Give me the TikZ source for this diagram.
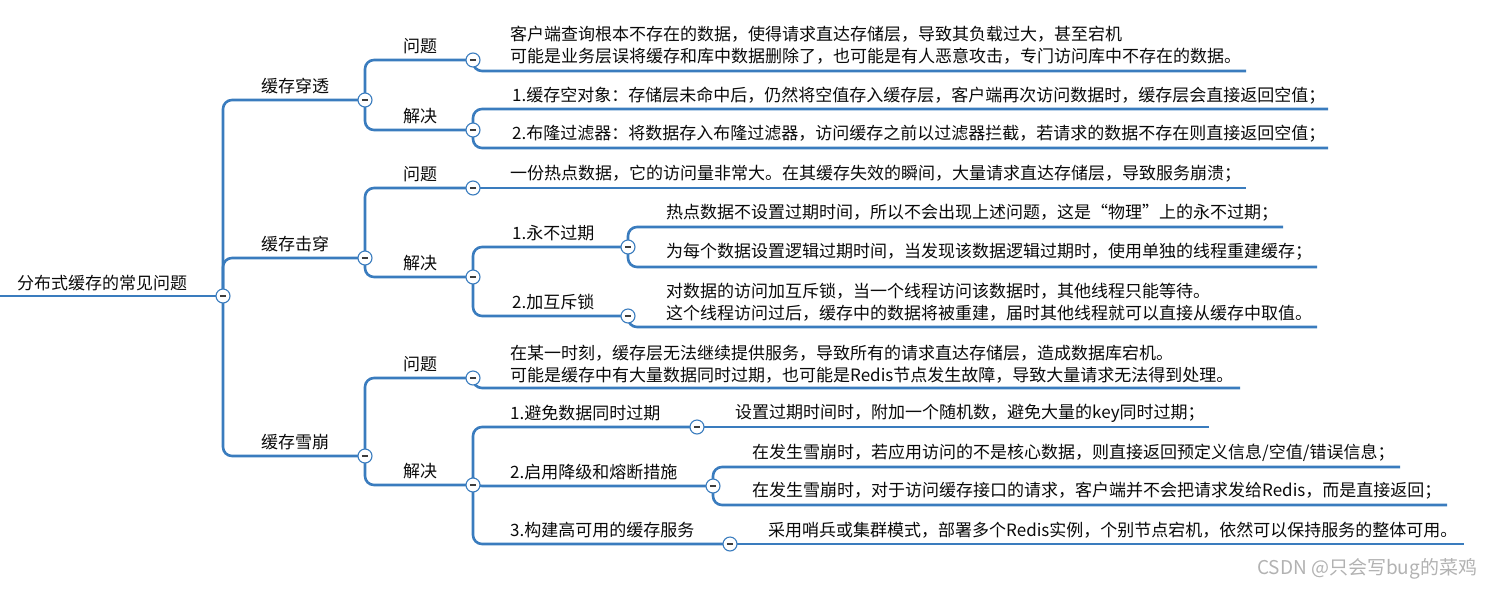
\documentclass[tikz,border=0pt]{standalone}
\usepackage{fontspec}
\newfontfamily\cjk{Noto Sans CJK SC}
\usetikzlibrary{backgrounds}
\definecolor{lineblue}{RGB}{58,124,190}
\definecolor{txt}{RGB}{10,10,10}
\definecolor{wm}{RGB}{178,178,178}
\definecolor{minus}{RGB}{60,60,60}
\begin{document}
\begin{tikzpicture}[x=1pt,y=-1pt,
  every node/.style={font=\cjk\fontsize{17}{22.5}\selectfont, text=txt, inner sep=0pt},
  lbl/.style={anchor=west, align=left},
  tog/.style={circle, draw=lineblue, fill=white, line width=1.1pt, minimum size=14pt, inner sep=0pt,
    path picture={\draw[line width=1.3pt, minus] ([xshift=-3.2pt]path picture bounding box.center) -- ([xshift=3.2pt]path picture bounding box.center);}},
  conn/.style={draw=lineblue, line width=2.6pt, rounded corners=9pt}]
\useasboundingbox (0,0) rectangle (1497,590);

% root
\coordinate (R0) at (0,296);
\node[tog] (R) at (223,296) {};
\node[lbl] (Rt) at (17,283) {分布式缓存的常见问题};

% 缓存穿透
\node[tog] (A) at (365,100) {};
\node[lbl] (At) at (261,86) {缓存穿透};
\node[tog] (A1) at (473,60) {};
\node[lbl] (A1t) at (403,46) {问题};
\coordinate (A1e) at (1246,71);
\node[lbl] (A1l) at (510,45) {客户端查询根本不存在的数据，使得请求直达存储层，导致其负载过大，甚至宕机\\可能是业务层误将缓存和库中数据删除了，也可能是有人恶意攻击，专门访问库中不存在的数据。};
\node[tog] (A2) at (473,130) {};
\node[lbl] (A2t) at (403,116) {解决};
\coordinate (A2ae) at (1328,109);
\node[lbl] (A2al) at (512,96) {1.缓存空对象：存储层未命中后，仍然将空值存入缓存层，客户端再次访问数据时，缓存层会直接返回空值；};
\coordinate (A2be) at (1328,148);
\node[lbl] (A2bl) at (512,134) {2.布隆过滤器：将数据存入布隆过滤器，访问缓存之前以过滤器拦截，若请求的数据不存在则直接返回空值；};

% 缓存击穿
\node[tog] (B) at (365,258) {};
\node[lbl] (Bt) at (261,244) {缓存击穿};
\node[tog] (B1) at (473,188) {};
\node[lbl] (B1t) at (403,174) {问题};
\coordinate (B1e) at (1246,188);
\node[lbl] (B1l) at (510,174) {一份热点数据，它的访问量非常大。在其缓存失效的瞬间，大量请求直达存储层，导致服务崩溃；};
\node[tog] (B2) at (473,277) {};
\node[lbl] (B2t) at (403,263) {解决};
\node[tog] (B21) at (628,247) {};
\node[lbl] (B21t) at (512,233) {1.永不过期};
\coordinate (B21ae) at (1283,227);
\node[lbl] (B21al) at (666,213) {热点数据不设置过期时间，所以不会出现上述问题，这是“物理”上的永不过期；};
\coordinate (B21be) at (1317,267);
\node[lbl] (B21bl) at (666,252) {为每个数据设置逻辑过期时间，当发现该数据逻辑过期时，使用单独的线程重建缓存；};
\node[tog] (B22) at (628,316) {};
\node[lbl] (B22t) at (512,302) {2.加互斥锁};
\coordinate (B22e) at (1317,327);
\node[lbl] (B22l) at (666,302) {对数据的访问加互斥锁，当一个线程访问该数据时，其他线程只能等待。\\这个线程访问过后，缓存中的数据将被重建，届时其他线程就可以直接从缓存中取值。};

% 缓存雪崩
\node[tog] (C) at (365,456) {};
\node[lbl] (Ct) at (261,442) {缓存雪崩};
\node[tog] (C1) at (473,378) {};
\node[lbl] (C1t) at (403,364) {问题};
\coordinate (C1e) at (1240,388);
\node[lbl] (C1l) at (510,364) {在某一时刻，缓存层无法继续提供服务，导致所有的请求直达存储层，造成数据库宕机。\\可能是缓存中有大量数据同时过期，也可能是Redis节点发生故障，导致大量请求无法得到处理。};
\node[tog] (C2) at (473,485) {};
\node[lbl] (C2t) at (403,471) {解决};
\node[tog] (C21) at (697,427) {};
\node[lbl] (C21t) at (510,413) {1.避免数据同时过期};
\coordinate (C21e) at (1209,427);
\node[lbl] (C21l) at (735,413) {设置过期时间时，附加一个随机数，避免大量的key同时过期；};
\node[tog] (C22) at (713,486) {};
\node[lbl] (C22t) at (510,472) {2.启用降级和熔断措施};
\coordinate (C22ae) at (1400,467);
\node[lbl] (C22al) at (752,453) {在发生雪崩时，若应用访问的不是核心数据，则直接返回预定义信息/空值/错误信息；};
\coordinate (C22be) at (1447,505);
\node[lbl] (C22bl) at (752,491) {在发生雪崩时，对于访问缓存接口的请求，客户端并不会把请求发给Redis，而是直接返回；};
\node[tog] (C23) at (730,544) {};
\node[lbl] (C23t) at (510,530) {3.构建高可用的缓存服务};
\coordinate (C23e) at (1464,544);
\node[lbl] (C23l) at (768,530) {采用哨兵或集群模式，部署多个Redis实例，个别节点宕机，依然可以保持服务的整体可用。};

% watermark
\node[lbl, text=wm, font=\cjk\fontsize{19}{22}\selectfont] (wm) at (1257,569) {CSDN @只会写bug的菜鸡};

\begin{scope}[on background layer]
\draw[conn] (R0) -- (R.center);
\draw[conn] (R.center) |- (A.center);
\draw[conn] (R.center) |- (B.center);
\draw[conn] (R.center) |- (C.center);
\draw[conn] (A.center) |- (A1.center);
\draw[conn] (A.center) |- (A2.center);
\draw[conn] (A1.center) |- (A1e);
\draw[conn] (A2.center) |- (A2ae);
\draw[conn] (A2.center) |- (A2be);
\draw[conn] (B.center) |- (B1.center);
\draw[conn] (B.center) |- (B2.center);
\draw[conn] (B1.center) -- (B1e);
\draw[conn] (B2.center) |- (B21.center);
\draw[conn] (B2.center) |- (B22.center);
\draw[conn] (B21.center) |- (B21ae);
\draw[conn] (B21.center) |- (B21be);
\draw[conn] (B22.center) |- (B22e);
\draw[conn] (C.center) |- (C1.center);
\draw[conn] (C.center) |- (C2.center);
\draw[conn] (C1.center) |- (C1e);
\draw[conn] (C2.center) |- (C21.center);
\draw[conn] (C2.center) |- (C22.center);
\draw[conn] (C2.center) |- (C23.center);
\draw[conn] (C21.center) -- (C21e);
\draw[conn] (C22.center) |- (C22ae);
\draw[conn] (C22.center) |- (C22be);
\draw[conn] (C23.center) -- (C23e);
\end{scope}
\end{tikzpicture}
\end{document}
